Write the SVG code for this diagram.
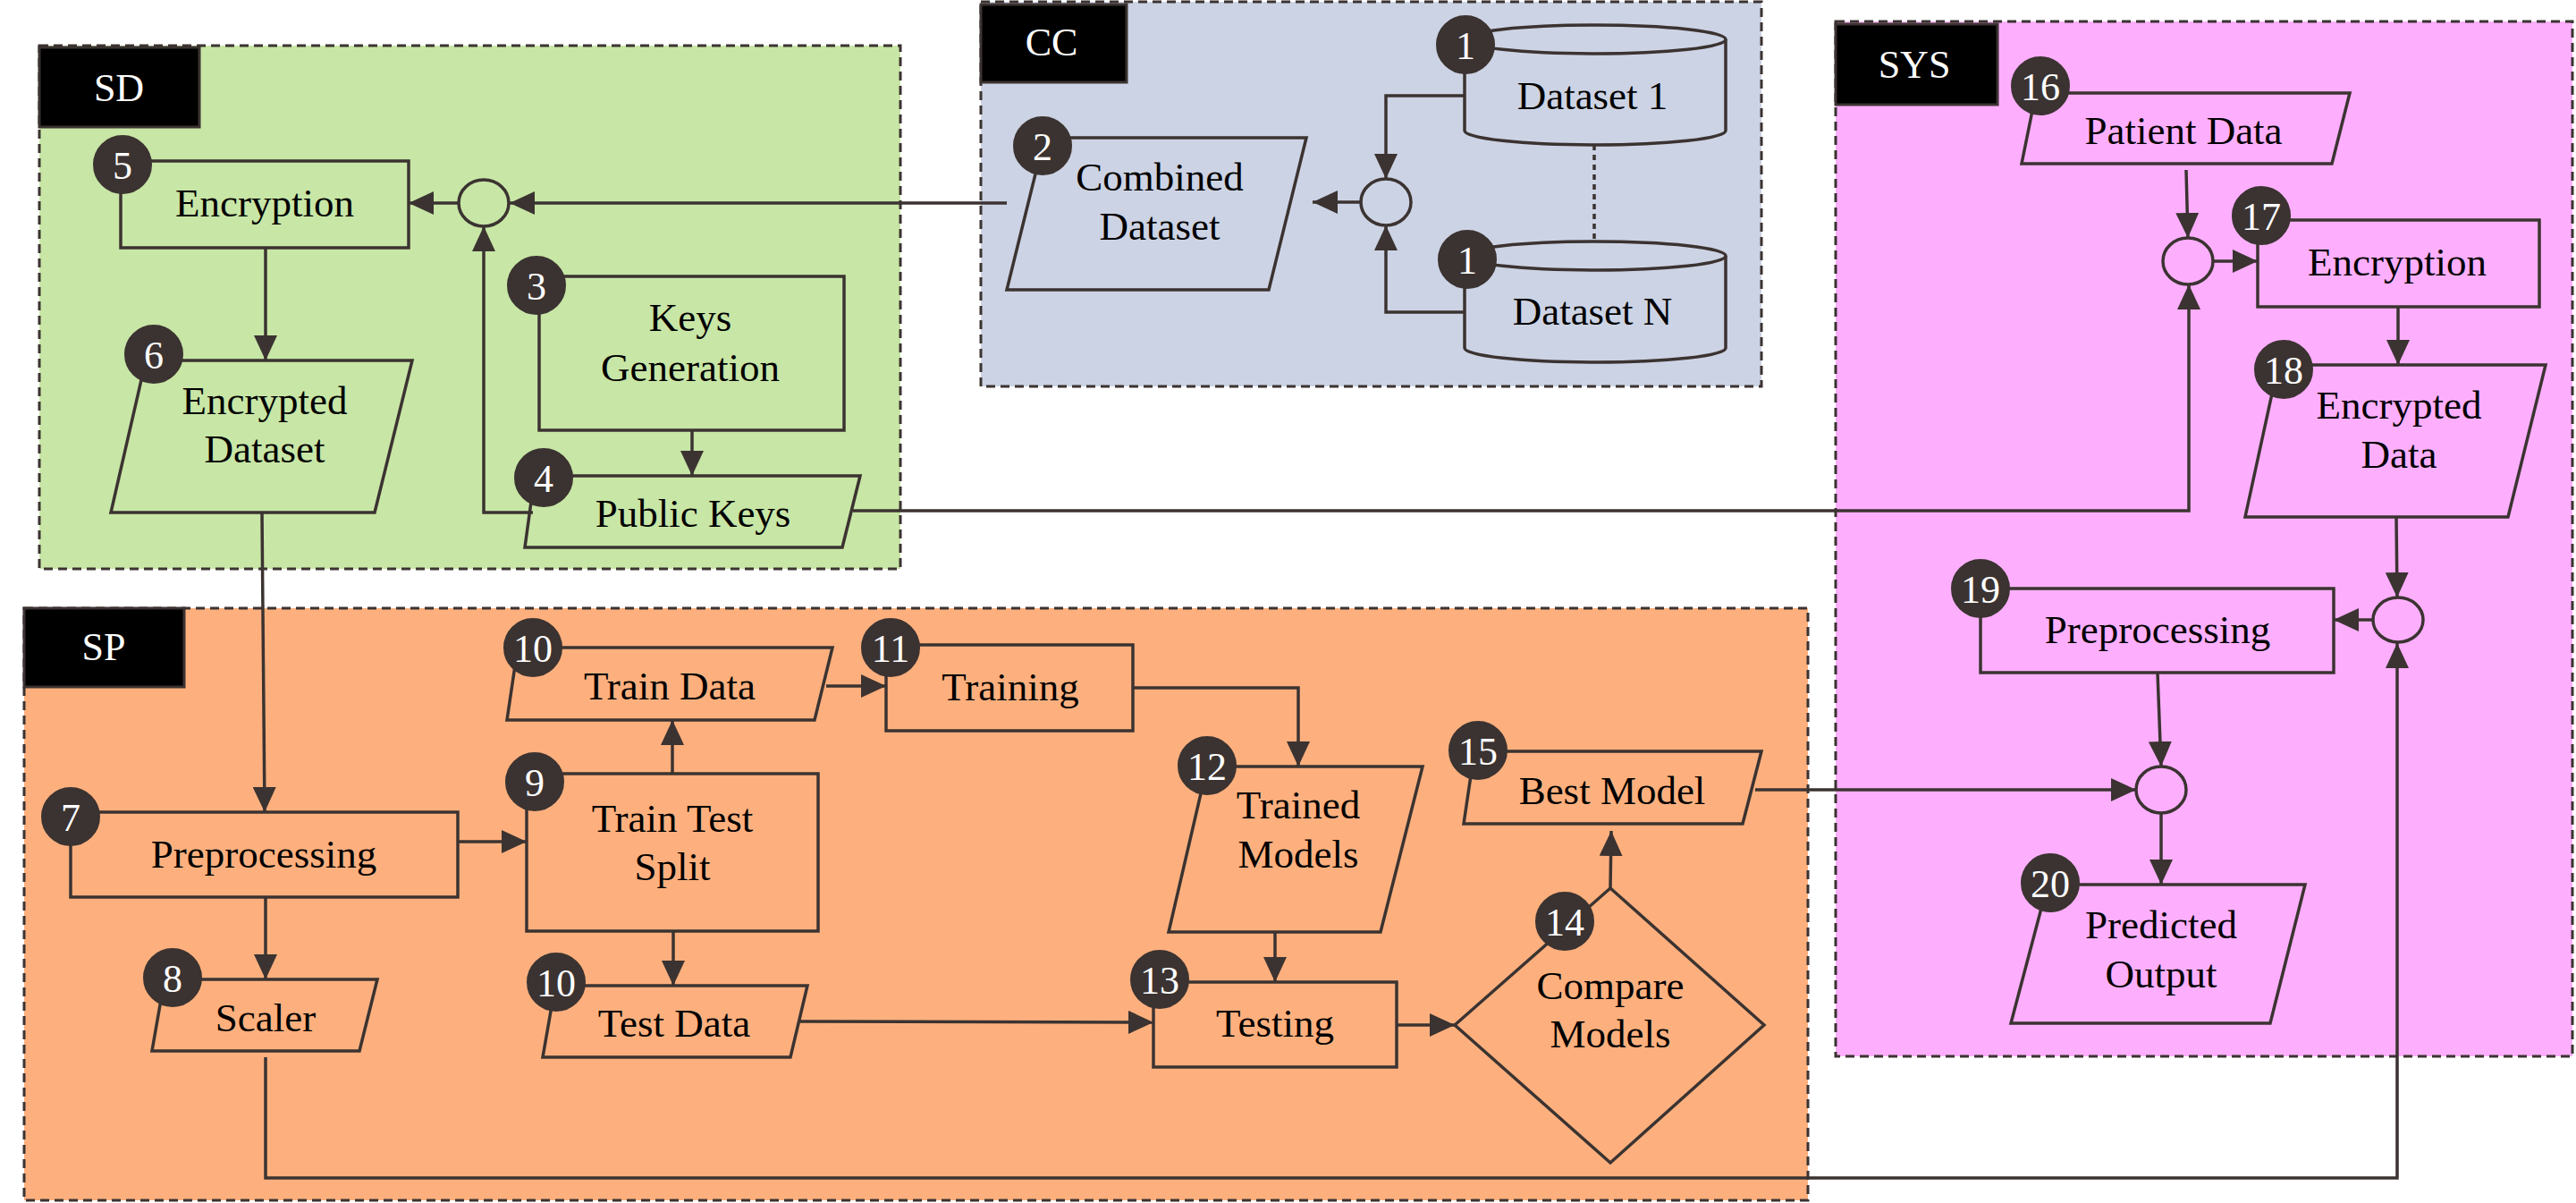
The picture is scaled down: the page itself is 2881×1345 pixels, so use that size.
<svg xmlns="http://www.w3.org/2000/svg" width="2881" height="1345" viewBox="0 0 2881 1345">
<style>
.cont{stroke:#3b3331;stroke-width:3;stroke-dasharray:10,6}
.lab{fill:#000;stroke:#3b3331;stroke-width:3}
.labt{font-family:'Liberation Serif','Times New Roman','DejaVu Serif',serif;font-size:44px;fill:#fff;text-anchor:middle}
.sh{stroke:#3b3331;stroke-width:3.5;fill:none}
.t{font-family:'Liberation Serif','Times New Roman','DejaVu Serif',serif;font-size:45px;fill:#000;text-anchor:middle}
.b{fill:#3b3331;stroke:#3b3331;stroke-width:2}
.bt{font-family:'Liberation Serif','Times New Roman','DejaVu Serif',serif;font-size:44px;fill:#fff;text-anchor:middle}
.c{stroke:#3b3331;stroke-width:3.5;fill:none}
.j{stroke:#3b3331;stroke-width:3.5;fill:none}
.dot{stroke:#3b3331;stroke-width:3.5;stroke-dasharray:6,5;fill:none}
</style>
<defs>
<marker id="ah" markerUnits="userSpaceOnUse" markerWidth="28" markerHeight="26" refX="28" refY="13" orient="auto">
<path d="M0,0 L28,13 L0,26 z" fill="#3b3331"/>
</marker>
</defs>
<rect width="2881" height="1345" fill="#fff"/>
<g id="containers">
<g id="SD"><rect class="cont" x="44" y="51" width="963" height="585" fill="#c8e6a6"/><rect class="lab" x="44" y="53" width="179" height="89"/><text class="labt" x="133" y="113">SD</text></g>
<g id="CC"><rect class="cont" x="1097" y="2" width="873" height="430" fill="#ccd3e4"/><rect class="lab" x="1097" y="5" width="163" height="87"/><text class="labt" x="1176" y="62">CC</text></g>
<g id="SYS"><rect class="cont" x="2053" y="24" width="824" height="1157" fill="#fdaffd"/><rect class="lab" x="2053" y="27" width="181" height="90"/><text class="labt" x="2141" y="87">SYS</text></g>
<g id="SP"><rect class="cont" x="27" y="680" width="1995" height="662" fill="#fdb07e"/><rect class="lab" x="27" y="680" width="179" height="88"/><text class="labt" x="116" y="738">SP</text></g>
</g>
<g id="connectors">
<path class="c" d="M1126,227 L570,227" marker-end="url(#ah)"/>
<path class="c" d="M513,227 L457,227" marker-end="url(#ah)"/>
<path class="c" d="M596,573 L541,573 L541,253" marker-end="url(#ah)"/>
<path class="c" d="M774,481 L774,532" marker-end="url(#ah)"/>
<path class="c" d="M297,277 L297,403" marker-end="url(#ah)"/>
<path class="c" d="M293,573 L296,908" marker-end="url(#ah)"/>
<path class="c" d="M954,571 L2448,571 L2448,318" marker-end="url(#ah)"/>
<path class="c" d="M1638,107 L1550,107 L1550,200" marker-end="url(#ah)"/>
<path class="c" d="M1638,349 L1550,349 L1550,252" marker-end="url(#ah)"/>
<path class="c" d="M1522,226 L1468,226" marker-end="url(#ah)"/>
<path class="dot" d="M1783,162 L1783,270"/>
<path class="c" d="M2445,190 L2447,266" marker-end="url(#ah)"/>
<path class="c" d="M2476,292 L2525,292" marker-end="url(#ah)"/>
<path class="c" d="M2682,343 L2682,408" marker-end="url(#ah)"/>
<path class="c" d="M2680,578 L2681,668" marker-end="url(#ah)"/>
<path class="c" d="M2654,693 L2610,693" marker-end="url(#ah)"/>
<path class="c" d="M297,1182 L297,1317 L2681,1317 L2681,719" marker-end="url(#ah)"/>
<path class="c" d="M2413,752 L2417,857" marker-end="url(#ah)"/>
<path class="c" d="M1963,883 L2389,883" marker-end="url(#ah)"/>
<path class="c" d="M2417,910 L2417,989" marker-end="url(#ah)"/>
<path class="c" d="M512,941 L589,941" marker-end="url(#ah)"/>
<path class="c" d="M297,1003 L297,1095" marker-end="url(#ah)"/>
<path class="c" d="M752,865 L752,805" marker-end="url(#ah)"/>
<path class="c" d="M753,1041 L753,1102" marker-end="url(#ah)"/>
<path class="c" d="M924,767 L991,767" marker-end="url(#ah)"/>
<path class="c" d="M1267,769 L1452,769 L1452,857" marker-end="url(#ah)"/>
<path class="c" d="M1426,1042 L1426,1098" marker-end="url(#ah)"/>
<path class="c" d="M894,1142 L1290,1143" marker-end="url(#ah)"/>
<path class="c" d="M1562,1146 L1627,1146" marker-end="url(#ah)"/>
<path class="c" d="M1801,993 L1802,929" marker-end="url(#ah)"/>
</g>
<g id="junctions">
<ellipse id="j1" class="j" cx="541" cy="227" rx="28" ry="26"/>
<ellipse id="j2" class="j" cx="1550" cy="226" rx="28" ry="26"/>
<ellipse id="j3" class="j" cx="2447" cy="292" rx="28" ry="26"/>
<ellipse id="j4" class="j" cx="2682" cy="693" rx="28" ry="25"/>
<ellipse id="j5" class="j" cx="2417" cy="883" rx="28" ry="26"/>
</g>
<g id="n5"><rect class="sh" x="135" y="180" width="322" height="97"/><text class="t" x="296" y="242">Encryption</text><circle class="b" cx="137" cy="184" r="32"/><text class="bt" x="137" y="200">5</text></g>
<g id="n6"><polygon class="sh" points="163,403 461,403 419,573 124,573"/><text class="t" x="296" y="463">Encrypted</text><text class="t" x="296" y="517">Dataset</text><circle class="b" cx="172" cy="396" r="32"/><text class="bt" x="172" y="412">6</text></g>
<g id="n3"><rect class="sh" x="603" y="309" width="341" height="172"/><text class="t" x="772" y="370">Keys</text><text class="t" x="772" y="426">Generation</text><circle class="b" cx="600" cy="319" r="32"/><text class="bt" x="600" y="335">3</text></g>
<g id="n4"><polygon class="sh" points="598,532 962,532 942,612 587,612"/><text class="t" x="775" y="589">Public Keys</text><circle class="b" cx="608" cy="534" r="32"/><text class="bt" x="608" y="550">4</text></g>
<g id="n2"><polygon class="sh" points="1168,154 1461,154 1419,324 1126,324"/><text class="t" x="1297" y="213">Combined</text><text class="t" x="1297" y="268">Dataset</text><circle class="b" cx="1166" cy="163" r="32"/><text class="bt" x="1166" y="179">2</text></g>
<g id="n1a"><path class="sh" d="M1638,44 L1638,146 A146,16 0 0 0 1930,146 L1930,44"/><ellipse class="sh" cx="1784" cy="44" rx="146" ry="16"/><text class="t" x="1781" y="122">Dataset 1</text><circle class="b" cx="1639" cy="50" r="32"/><text class="bt" x="1639" y="66">1</text></g>
<g id="n1b"><path class="sh" d="M1638,286 L1638,389 A146,16 0 0 0 1930,389 L1930,286"/><ellipse class="sh" cx="1784" cy="286" rx="146" ry="16"/><text class="t" x="1781" y="363">Dataset N</text><circle class="b" cx="1641" cy="290" r="32"/><text class="bt" x="1641" y="306">1</text></g>
<g id="n16"><polygon class="sh" points="2277,104 2628,104 2608,183 2261,183"/><text class="t" x="2442" y="161">Patient Data</text><circle class="b" cx="2282" cy="96" r="32"/><text class="bt" x="2282" y="112">16</text></g>
<g id="n17"><rect class="sh" x="2525" y="246" width="315" height="97"/><text class="t" x="2681" y="308">Encryption</text><circle class="b" cx="2529" cy="241" r="32"/><text class="bt" x="2529" y="257">17</text></g>
<g id="n18"><polygon class="sh" points="2548,408 2847,408 2805,578 2511,578"/><text class="t" x="2683" y="468">Encrypted</text><text class="t" x="2683" y="523">Data</text><circle class="b" cx="2554" cy="413" r="32"/><text class="bt" x="2554" y="429">18</text></g>
<g id="n19"><rect class="sh" x="2215" y="658" width="395" height="94"/><text class="t" x="2413" y="719">Preprocessing</text><circle class="b" cx="2215" cy="658" r="32"/><text class="bt" x="2215" y="674">19</text></g>
<g id="n20"><polygon class="sh" points="2290,989 2578,989 2539,1144 2249,1144"/><text class="t" x="2417" y="1049">Predicted</text><text class="t" x="2417" y="1104">Output</text><circle class="b" cx="2293" cy="987" r="32"/><text class="bt" x="2293" y="1003">20</text></g>
<g id="n7"><rect class="sh" x="79" y="908" width="433" height="95"/><text class="t" x="295" y="970">Preprocessing</text><circle class="b" cx="79" cy="913" r="32"/><text class="bt" x="79" y="929">7</text></g>
<g id="n8"><polygon class="sh" points="184,1095 422,1095 402,1175 170,1175"/><text class="t" x="297" y="1153">Scaler</text><circle class="b" cx="193" cy="1093" r="32"/><text class="bt" x="193" y="1109">8</text></g>
<g id="n9"><rect class="sh" x="589" y="865" width="326" height="176"/><text class="t" x="752" y="930">Train Test</text><text class="t" x="752" y="984">Split</text><circle class="b" cx="598" cy="874" r="32"/><text class="bt" x="598" y="890">9</text></g>
<g id="n10a"><polygon class="sh" points="579,724 931,724 911,805 567,805"/><text class="t" x="749" y="782">Train Data</text><circle class="b" cx="596" cy="724" r="32"/><text class="bt" x="596" y="740">10</text></g>
<g id="n10b"><polygon class="sh" points="621,1102 903,1102 884,1182 607,1182"/><text class="t" x="754" y="1159">Test Data</text><circle class="b" cx="622" cy="1098" r="32"/><text class="bt" x="622" y="1114">10</text></g>
<g id="n11"><rect class="sh" x="991" y="721" width="276" height="96"/><text class="t" x="1130" y="783">Training</text><circle class="b" cx="996" cy="724" r="32"/><text class="bt" x="996" y="740">11</text></g>
<g id="n12"><polygon class="sh" points="1350,857 1591,857 1544,1042 1307,1042"/><text class="t" x="1452" y="915">Trained</text><text class="t" x="1452" y="970">Models</text><circle class="b" cx="1350" cy="856" r="32"/><text class="bt" x="1350" y="872">12</text></g>
<g id="n13"><rect class="sh" x="1290" y="1098" width="272" height="95"/><text class="t" x="1426" y="1159">Testing</text><circle class="b" cx="1297" cy="1095" r="32"/><text class="bt" x="1297" y="1111">13</text></g>
<g id="n14"><polygon class="sh" points="1627,1146 1801,993 1973,1146 1801,1300"/><text class="t" x="1801" y="1117">Compare</text><text class="t" x="1801" y="1171">Models</text><circle class="b" cx="1750" cy="1030" r="32"/><text class="bt" x="1750" y="1046">14</text></g>
<g id="n15"><polygon class="sh" points="1649,840 1970,840 1949,921 1637,921"/><text class="t" x="1803" y="899">Best Model</text><circle class="b" cx="1653" cy="839" r="32"/><text class="bt" x="1653" y="855">15</text></g>
</svg>
